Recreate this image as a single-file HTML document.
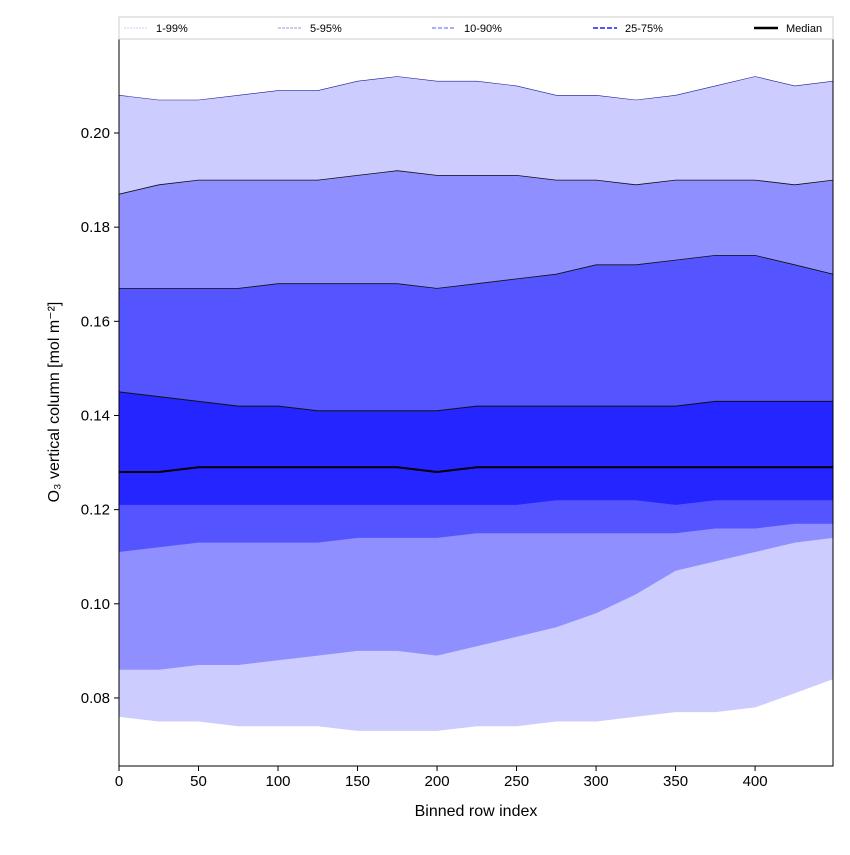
<!DOCTYPE html>
<html><head><meta charset="utf-8"><style>
body{margin:0;background:#fff;font-family:"Liberation Sans","DejaVu Sans",sans-serif}
</style></head><body>
<svg id="c" width="850" height="850" xmlns="http://www.w3.org/2000/svg"></svg>
<script>
const xs=[0,25,50,75,100,125,150,175,200,225,250,275,300,325,350,375,400,425,449];
const p99=[.208,.207,.207,.208,.209,.209,.211,.212,.211,.211,.210,.208,.208,.207,.208,.210,.212,.210,.211];
const p95=[.187,.189,.190,.190,.190,.190,.191,.192,.191,.191,.191,.190,.190,.189,.190,.190,.190,.189,.190];
const p90=[.167,.167,.167,.167,.168,.168,.168,.168,.167,.168,.169,.170,.172,.172,.173,.174,.174,.172,.170];
const p75=[.145,.144,.143,.142,.142,.141,.141,.141,.141,.142,.142,.142,.142,.142,.142,.143,.143,.143,.143];
const med=[.128,.128,.129,.129,.129,.129,.129,.129,.128,.129,.129,.129,.129,.129,.129,.129,.129,.129,.129];
const p25=[.121,.121,.121,.121,.121,.121,.121,.121,.121,.121,.121,.122,.122,.122,.121,.122,.122,.122,.122];
const p10=[.111,.112,.113,.113,.113,.113,.114,.114,.114,.115,.115,.115,.115,.115,.115,.116,.116,.117,.117];
const p5=[.086,.086,.087,.087,.088,.089,.090,.090,.089,.091,.093,.095,.098,.102,.107,.109,.111,.113,.114];
const p1=[.076,.075,.075,.074,.074,.074,.073,.073,.073,.074,.074,.075,.075,.076,.077,.077,.078,.081,.084];
const xTicks=[0,50,100,150,200,250,300,350,400];
const yTicks=[0.08,0.10,0.12,0.14,0.16,0.18,0.20];
const L=119,R=833,T=39,B=766;
const X=v=>L+(v-0)*(R-L)/449;
const Y=v=>133+(0.20-v)*4708;
const svg=document.getElementById('c');
const NS='http://www.w3.org/2000/svg';
function mk(t,a,p){const e=document.createElementNS(NS,t);for(const k in a)e.setAttribute(k,a[k]);(p||svg).appendChild(e);return e;}
function line(arr){return arr.map((v,i)=>(i?'L':'M')+X(xs[i]).toFixed(1)+','+Y(v).toFixed(1)).join('');}
function band(hi,lo){return line(hi)+lo.slice().reverse().map((v,j)=>{const i=lo.length-1-j;return 'L'+X(xs[i]).toFixed(1)+','+Y(v).toFixed(1);}).join('')+'Z';}
const bands=[[p99,p1,'#ccccff','band-1-99'],[p95,p5,'#8f8fff','band-5-95'],[p90,p10,'#5555ff','band-10-90'],[p75,p25,'#2525ff','band-25-75']];
for(const b of bands){
const e=mk('path',{d:band(b[0],b[1]),fill:b[2]});


}
const edges=[[p99,'#1a1a99',0.6],[p95,'#111',0.8],[p90,'#111',0.8],[p75,'#111',1]];
for(const ed of edges){
const e=mk('path',{d:line(ed[0]),fill:'none',stroke:ed[1],'stroke-width':ed[2]});


}
const m=mk('path',{d:line(med),fill:'none',stroke:'#000','stroke-width':2});


const fr=mk('rect',{x:L,y:T,width:R-L,height:B-T,fill:'none',stroke:'#000','stroke-width':1});


for(const t of xTicks){
mk('line',{x1:X(t),x2:X(t),y1:B,y2:B+5,stroke:'#000'});
const tx=mk('text',{x:X(t),y:B+20,'text-anchor':'middle','font-size':15});
tx.textContent=t;


}
for(const t of yTicks){
mk('line',{x1:L-5,x2:L,y1:Y(t),y2:Y(t),stroke:'#000'});
const tx=mk('text',{x:L-9,y:Y(t)+5,'text-anchor':'end','font-size':15});
tx.textContent=t.toFixed(2);


}
const xt=mk('text',{x:(L+R)/2,y:816,'text-anchor':'middle','font-size':16});
xt.textContent='Binned row index';


const yt=mk('text',{x:0,y:0,'text-anchor':'middle','font-size':16,transform:'translate(59,402) rotate(-90)'});
yt.textContent='O₃ vertical column [mol m⁻²]';


const lg=mk('g',{});


mk('rect',{x:119,y:17,width:714,height:22,fill:'#fff',stroke:'#ccc'},lg);
const items=[[124,'1-99%','#ccccff','2,1',1],[278,'5-95%','#9999dd','3,1',1],[432,'10-90%','#8f8fff','4,2',1.5],[593,'25-75%','#5555ff','5,2',2],[754,'Median','#000','',2.5]];
for(const it of items){
const g=mk('g',{},lg);


const a={x1:it[0],x2:it[0]+24,y1:28,y2:28,stroke:it[2],'stroke-width':it[4]};
if(it[3])a['stroke-dasharray']=it[3];
mk('line',a,g);
const t=mk('text',{x:it[0]+32,y:32,'font-size':11},g);
t.textContent=it[1];
}
</script>
</body></html>
